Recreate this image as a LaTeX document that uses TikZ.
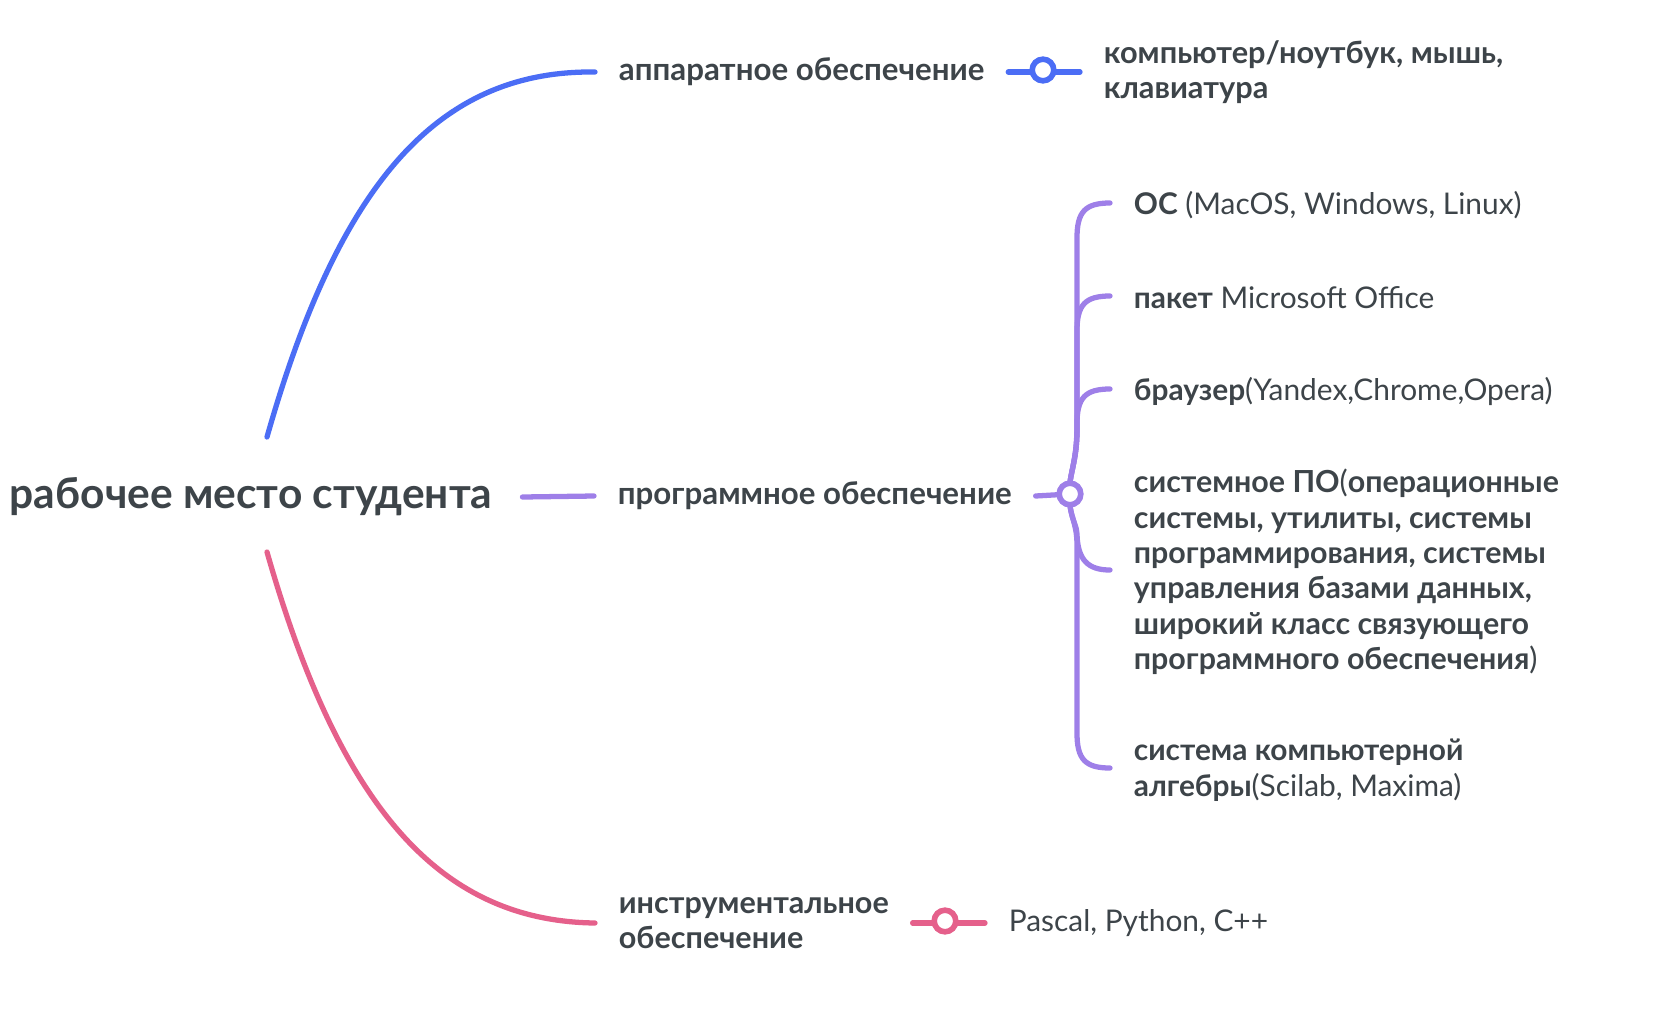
\documentclass[tikz,border=0pt]{standalone}
\usepackage{fontspec}
\setmainfont{Lato}
\usetikzlibrary{positioning}
\definecolor{hwblue}{HTML}{4B6DF5}
\definecolor{swviolet}{HTML}{9E7FE8}
\definecolor{toolpink}{HTML}{E5608B}
\definecolor{txtgray}{HTML}{3D4449}
\tikzset{
  hubbox/.style={font=\fontsize{24.2}{28}\selectfont\bfseries, text=txtgray, inner xsep=17pt, inner ysep=0pt},
  headbox/.style={font=\fontsize{17.8}{20.2}\selectfont\bfseries, text=txtgray, align=left, inner xsep=13.4pt, inner ysep=0pt, anchor=west},
  leafbox/.style={font=\fontsize{17}{20.2}\selectfont, text=txtgray, align=left, inner xsep=13.4pt, inner ysep=0pt, anchor=west},
  knob/.style={circle, draw=#1, fill=white, line width=3.2pt, minimum size=12.3pt, inner sep=0pt},
  wire/.style={draw=#1, line width=3pt, line cap=round},
}
\begin{document}
\begin{tikzpicture}[x=0.02cm,y=-0.02cm]
\useasboundingbox (0,0) rectangle (1660,1022);

% centre
\node[hubbox] (hub) at (251,497) {рабочее место студента};
\coordinate (hubup) at (267,437);
\coordinate (hubdown) at (267,552);

% first level
\node[headbox] (hw) at (595,72) {аппаратное обеспечение};
\node[headbox] (sw) at (594,496) {программное обеспечение};
\node[headbox,font=\fontsize{17.4}{20.2}\selectfont\bfseries] (tool) at (595,923) {инструментальное\\обеспечение};

\draw[wire=hwblue] (hubup) .. controls (340,180) and (440,70) .. (hw.west);
\draw[wire=swviolet] (hub.east) -- (sw.west);
\draw[wire=toolpink] (hubdown) .. controls (340,808) and (440,921) .. (tool.west);

% hardware
\node[leafbox,font=\fontsize{17.5}{20.2}\selectfont\bfseries] (hwleaf) at (1080,72) {компьютер/ноутбук, мышь,\\клавиатура};
\draw[wire=hwblue] (hw.east) -- (hwleaf.west);
\node[knob=hwblue] (hwknob) at (1043,70) {};

% software
\node[leafbox] (os) at (1110,205) {\textbf{ОС} (MacOS, Windows, Linux)};
\node[leafbox] (office) at (1110,298) {\textbf{пакет} Microsoft Office};
\node[leafbox] (browser) at (1110,391) {\textbf{браузер}(Yandex,Chrome,Opera)};
\node[leafbox,font=\fontsize{17.3}{20.2}\selectfont] (syspo) at (1110,572) {\textbf{системное ПО}(\textbf{операционные}\\\textbf{системы, утилиты, системы}\\\textbf{программирования, системы}\\\textbf{управления базами данных,}\\\textbf{широкий класс связующего}\\\textbf{программного обеспечения})};
\node[leafbox] (cas) at (1110,770) {\textbf{система компьютерной}\\\textbf{алгебры}(Scilab, Maxima)};

\draw[wire=swviolet] (sw.east) -- (1070,494);
\draw[wire=swviolet] (1070,482) .. controls (1072,468) and (1077,455) .. (1077,430) -- (1077,238) .. controls (1077,212) and (1085,203) .. (1110,203);
\draw[wire=swviolet] (1070,482) .. controls (1072,468) and (1077,455) .. (1077,430) -- (1077,331) .. controls (1077,305) and (1085,296) .. (1110,296);
\draw[wire=swviolet] (1070,482) .. controls (1072,468) and (1077,455) .. (1077,424) .. controls (1077,398) and (1085,389) .. (1110,389);
\draw[wire=swviolet] (1070,506) .. controls (1072,520) and (1077,526) .. (1077,535) .. controls (1078,560) and (1088,570) .. (1110,570);
\draw[wire=swviolet] (1070,506) .. controls (1072,520) and (1077,526) .. (1077,545) -- (1077,733) .. controls (1077,759) and (1085,768) .. (1110,768);
\node[knob=swviolet] (swknob) at (1070,494) {};

% tools
\node[leafbox] (toolleaf) at (985,923) {Pascal, Python, C++};
\draw[wire=toolpink] (tool.east) -- (toolleaf.west);
\node[knob=toolpink] (toolknob) at (945,921) {};

\end{tikzpicture}
\end{document}
